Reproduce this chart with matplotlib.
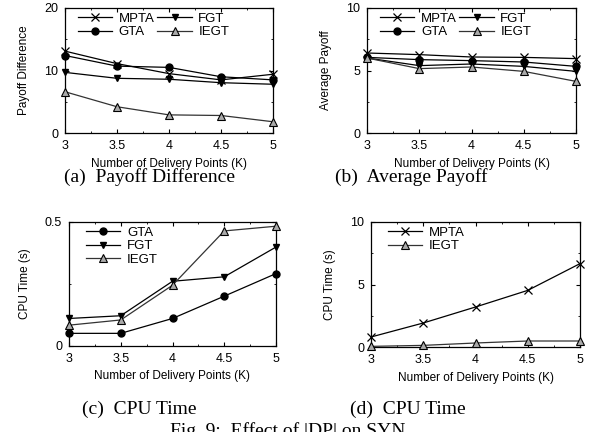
import matplotlib
matplotlib.use("Agg")
from matplotlib import pyplot as plt
from matplotlib.ticker import MultipleLocator

plt.rcParams['font.family'] = ['Liberation Sans', 'DejaVu Sans']

# x 轴：配送点数量
k = [3, 3.5, 4, 4.5, 5]

# (a) Payoff Difference
pd_mpta = [13.1, 11.1, 9.5, 8.5, 9.4]
pd_gta = [12.4, 10.7, 10.5, 9.0, 8.5]
pd_fgt = [9.7, 8.75, 8.6, 8.05, 7.8]
pd_iegt = [6.6, 4.2, 2.9, 2.8, 1.8]

# (b) Average Payoff
ap_mpta = [6.4, 6.27, 6.08, 6.05, 5.95]
ap_gta = [6.05, 5.87, 5.79, 5.68, 5.33]
ap_fgt = [6.0, 5.39, 5.52, 5.33, 4.93]
ap_iegt = [6.0, 5.15, 5.28, 4.93, 4.13]

# (c) CPU Time
cpu_gta = [0.051, 0.051, 0.111, 0.201, 0.292]
cpu_fgt = [0.111, 0.122, 0.261, 0.279, 0.399]
cpu_iegt = [0.084, 0.105, 0.245, 0.464, 0.483]

# (d) CPU Time
cpu2_mpta = [0.8, 1.92, 3.2, 4.53, 6.67]
cpu2_iegt = [0.05, 0.13, 0.32, 0.48, 0.48]

styles = {
    'MPTA': dict(marker='x', color='black', ms=6, mew=0.9),
    'GTA': dict(marker='o', color='black', ms=5),
    'FGT': dict(marker='v', color='black', ms=4.5),
    'IEGT': dict(marker='^', color='#333333', mfc='#aaaaaa', mec='black', ms=5.5, mew=0.8),
}

W, H = 595, 432
fig = plt.figure(figsize=(W / 100, H / 100), dpi=100)


def make_ax(l, t, r, b):
    return fig.add_axes([l / W, (H - b) / H, (r - l) / W, (b - t) / H])


def style_ax(ax, ymax, ystep, ylabel):
    ax.set_xlim(3, 5)
    ax.set_ylim(0, ymax)
    ax.set_xticks(k)
    ax.set_xticklabels(['3', '3.5', '4', '4.5', '5'])
    ax.xaxis.set_minor_locator(MultipleLocator(0.25))
    ax.set_yticks([0, ystep, ymax])
    ax.yaxis.set_minor_locator(MultipleLocator(ystep / 2))
    ax.tick_params(which='both', direction='in', top=True, right=True,
                   labelsize=9, pad=5)
    ax.tick_params(which='major', length=3)
    ax.tick_params(which='minor', length=1.5)
    ax.set_xlabel('Number of Delivery Points (K)', fontsize=8.5, labelpad=4)
    ax.set_ylabel(ylabel, fontsize=8.5, labelpad=10)
    for s in ax.spines.values():
        s.set_linewidth(0.9)


def draw(ax, name, y):
    ax.plot(k, y, lw=0.9, label=name, clip_on=False, zorder=3, **styles[name])


axa = make_ax(65, 8, 273, 133)
draw(axa, 'MPTA', pd_mpta)
draw(axa, 'FGT', pd_fgt)
draw(axa, 'GTA', pd_gta)
draw(axa, 'IEGT', pd_iegt)
style_ax(axa, 20, 10, 'Payoff Difference')

axb = make_ax(367, 8, 576, 133)
draw(axb, 'MPTA', ap_mpta)
draw(axb, 'FGT', ap_fgt)
draw(axb, 'GTA', ap_gta)
draw(axb, 'IEGT', ap_iegt)
style_ax(axb, 10, 5, 'Average Payoff')

axc = make_ax(69, 222, 276, 346)
draw(axc, 'GTA', cpu_gta)
draw(axc, 'FGT', cpu_fgt)
draw(axc, 'IEGT', cpu_iegt)
style_ax(axc, 0.5, 0.25, 'CPU Time (s)')
axc.set_yticks([0, 0.5])
axc.set_yticklabels(['0', '0.5'])
axc.yaxis.set_minor_locator(MultipleLocator(0.25))

axd = make_ax(371, 222, 580, 347)
draw(axd, 'MPTA', cpu2_mpta)
draw(axd, 'IEGT', cpu2_iegt)
style_ax(axd, 10, 5, 'CPU Time (s)')

leg_kw = dict(frameon=False, fontsize=9.5, handlelength=2.6, handletextpad=0.5,
              labelspacing=0.1, borderaxespad=0.0, borderpad=0.35)
for ax in (axa, axb):
    h, l = ax.get_legend_handles_labels()
    order = [0, 2, 1, 3]
    ax.legend([h[i] for i in order], [l[i] for i in order], ncol=2,
              loc='upper left', bbox_to_anchor=(0.04, 1.0),
              columnspacing=0.2, **leg_kw)
axc.legend(loc='upper left', bbox_to_anchor=(0.06, 1.0), **leg_kw)
axd.legend(loc='upper left', bbox_to_anchor=(0.06, 1.0), **leg_kw)

cap = dict(family='Liberation Serif', fontsize=14, ha='center', va='center')
fig.text(149 / W, 1 - 177 / H, '(a)  Payoff Difference', **cap)
fig.text(411 / W, 1 - 177 / H, '(b)  Average Payoff', **cap)
fig.text(139 / W, 1 - 409 / H, '(c)  CPU Time', **cap)
fig.text(408 / W, 1 - 409 / H, '(d)  CPU Time', **cap)
fig.text(170 / W, 1 - 431 / H, 'Fig. 9:  Effect of |DP| on SYN', ha='left',
         va='center', family='Liberation Serif', fontsize=14)

fig.savefig('out.png', dpi=100)
